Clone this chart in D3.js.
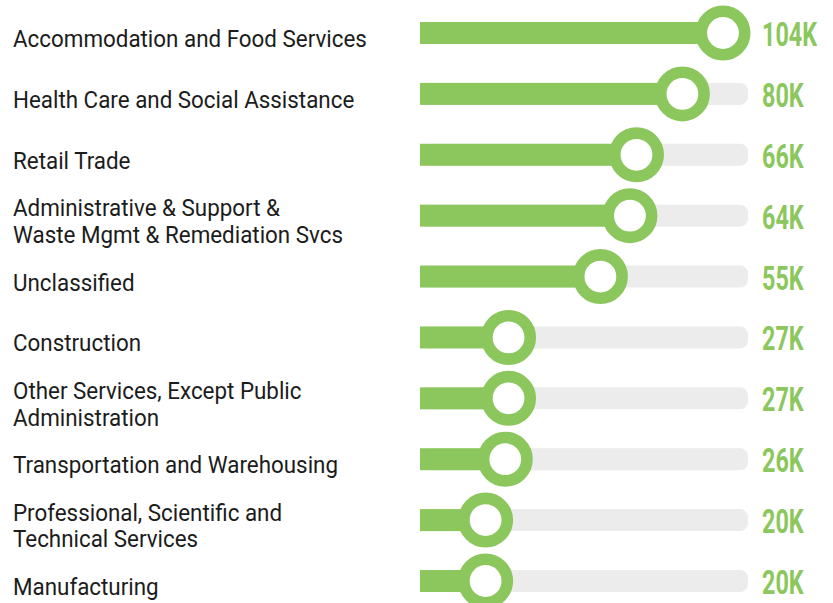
<!DOCTYPE html>
<html>
<head>
<meta charset="utf-8">
<script src="https://cdn.jsdelivr.net/npm/d3@7"></script>
<style>
  html, body { margin: 0; padding: 0; background: #ffffff; }
  svg { display: block; }
</style>
</head>
<body>
<svg id="chart" width="833" height="603"></svg>
<script>
// ---- data ----
const categories = [
  "Accommodation and Food Services",
  "Health Care and Social Assistance",
  "Retail Trade",
  "Administrative & Support &\nWaste Mgmt & Remediation Svcs",
  "Unclassified",
  "Construction",
  "Other Services, Except Public\nAdministration",
  "Transportation and Warehousing",
  "Professional, Scientific and\nTechnical Services",
  "Manufacturing"
];
const values = [104, 80, 66, 64, 55, 27, 27, 26, 20, 20]; // thousands
const valueLabels = ["104K", "80K", "66K", "64K", "55K", "27K", "27K", "26K", "20K", "20K"];

// ---- layout / style ----
const W = 833, H = 603;
const green = "#8BC75C";
const trackColor = "#ECECEC";
const trackX0 = 420, trackX1 = 748;
const barH = 22;
const knobR = 21.7, knobStroke = 11.6;

const svg = d3.select("#chart");

const y = d3.scalePoint().domain(d3.range(categories.length)).range([33, 581]);
const x = d3.scaleLinear().domain([0, 100]).range([trackX0, trackX1]);
const knobX = v => Math.min(x(v), trackX1 - 25);

const rows = svg.selectAll("g.row")
  .data(categories.map((c, i) => ({ cat: c, v: values[i], lab: valueLabels[i], i })))
  .join("g")
  .attr("class", "row");

// track
rows.append("rect")
  .attr("x", trackX0)
  .attr("y", d => y(d.i) - barH / 2)
  .attr("width", trackX1 - trackX0)
  .attr("height", barH)
  .attr("rx", 8)
  .attr("fill", trackColor);

// bar
rows.append("rect")
  .attr("x", trackX0)
  .attr("y", d => y(d.i) - barH / 2)
  .attr("width", d => knobX(d.v) - trackX0)
  .attr("height", barH)
  .attr("fill", green);

// knob
rows.append("circle")
  .attr("cx", d => knobX(d.v))
  .attr("cy", d => y(d.i))
  .attr("r", knobR)
  .attr("fill", "#ffffff")
  .attr("stroke", green)
  .attr("stroke-width", knobStroke);

// category labels
const labelFont = "Roboto, 'Noto Sans', sans-serif";
const labels = rows.append("text")
  .attr("font-family", labelFont)
  .attr("font-size", 24.5)
  .attr("fill", "#1c1c1c");

labels.each(function(d) {
  const lines = d.cat.split("\n");
  const t = d3.select(this);
  lines.forEach((ln, k) => {
    t.append("tspan")
      .attr("x", 0)
      .attr("y", y(d.i) + 14 + (k - (lines.length - 1) / 2) * 26.6)
      .text(ln);
  });
});

// horizontal compression to match the condensed face of the original
const probe = svg.append("text")
  .attr("font-family", labelFont).attr("font-size", 24.5)
  .text("Accommodation and Food Services");
const labScale = 354 / probe.node().getComputedTextLength();
probe.remove();
labels.attr("transform", `translate(13,0) scale(${labScale},1)`);

// value labels
const valFont = "Roboto, 'Noto Sans', sans-serif";
const probe2 = svg.append("text")
  .attr("font-family", valFont).attr("font-size", 33.5).attr("font-weight", 700)
  .text("104K");
const valScale = 55 / probe2.node().getComputedTextLength();
probe2.remove();

rows.append("text")
  .attr("font-family", valFont)
  .attr("font-size", 33.5)
  .attr("font-weight", 700)
  .attr("fill", green)
  .attr("transform", d => `translate(762,${y(d.i) + 13}) scale(${valScale},1)`)
  .text(d => d.lab);
</script>
</body>
</html>
